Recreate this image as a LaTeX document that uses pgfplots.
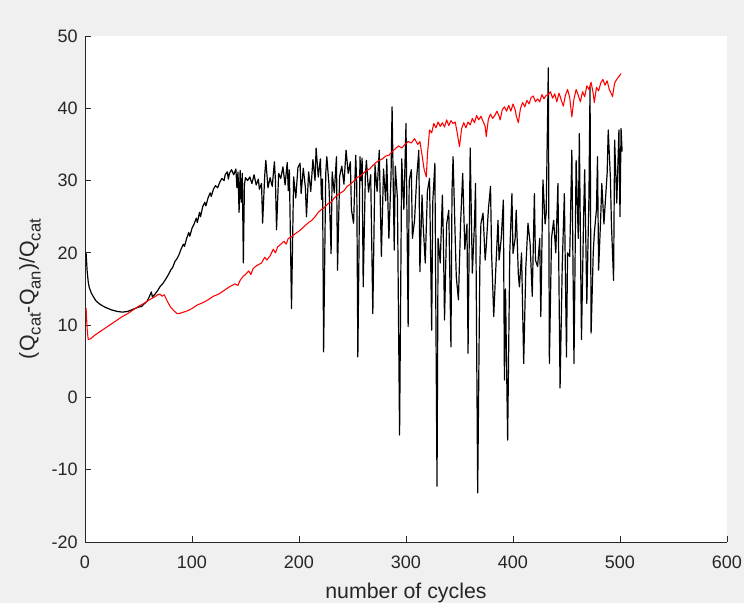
\documentclass[border=0pt]{standalone}
\usepackage{pgfplots}
\pgfplotsset{compat=1.18}
\usepackage{fontspec}
\setmainfont{Liberation Sans}
\definecolor{figbg}{HTML}{F0F0F0}
\definecolor{axc}{HTML}{262626}
\newcommand{\sub}[1]{\raisebox{-0.28em}{\fontsize{12.5}{13}\selectfont #1}}
\begin{document}
\begin{tikzpicture}
\fill[figbg] (-63.75pt,-45.75pt) rectangle (494.25pt,406.5pt);
\useasboundingbox (-63.75pt,-45.75pt) rectangle (494.25pt,406.5pt);
\begin{axis}[
  scale only axis, width=481.5pt, height=379.5pt,
  xmin=0, xmax=600, ymin=-20, ymax=50,
  xtick={0,100,...,600}, ytick={-20,-10,...,50},
  axis lines=left, axis line style={-, draw=axc, line width=0.6pt},
  axis background/.style={fill=white},
  tick align=inside, major tick length=4.5pt, tick style={axc, line width=0.6pt},
  /pgf/number format/assume math mode=true,
  ticklabel style={font=\fontsize{13.5}{15}\selectfont, text=axc},
  xticklabel style={yshift=-6.75pt},
  yticklabel style={xshift=-1.9pt},
  xlabel={number of cycles},
  ylabel={(Q\sub{cat}-Q\sub{an})/Q\sub{cat}},
  label style={font=\fontsize{16}{18}\selectfont, text=axc},
  xlabel style={at={(axis description cs:0.5,-0.1008)}, anchor=center},
  ylabel style={at={(axis description cs:-0.0857,0.5)}, anchor=center},
  clip=true,
]
\addplot[black, line width=0.9pt, line join=round] coordinates {
(1,20.0)(2,17.5)(3,16.0)(4,15.2)(6,14.4)(8,13.9)(10,13.4)(13,13.0)(16,12.7)(20,12.4)
(25,12.1)(30,11.9)(35,11.8)(40,11.9)(45,12.2)(50,12.5)(53,12.6)(55,12.9)(58,13.3)(60,13.9)
(62,14.6)(63,13.9)(65,14.2)(68,14.8)(70,15.3)(73,15.8)(76,16.5)(78,17.0)(80,17.6)(82,18.0)
(84,18.8)(86,19.2)(88,19.8)(90,20.6)(92,21.2)(93,20.9)(95,22.0)(97,22.8)(98,22.3)(100,23.4)
(102,24.0)(104,24.8)(105,24.2)(107,25.6)(108,25.0)(110,26.4)(112,27.0)(113,26.5)(115,27.6)(117,28.3)
(118,27.8)(120,28.8)(122,29.3)(124,29.0)(126,29.8)(128,30.3)(130,30.0)(131,30.8)(133,31.2)(134,30.2)
(135,31.0)(137,31.5)(139,30.8)(141,31.6)(142,29.0)(143,31.2)(144,25.6)(145,31.4)(146,27.0)(147,31.0)
(148,18.6)(149,29.5)(150,30.4)(152,30.0)(154,30.5)(156,29.6)(158,30.8)(160,29.4)(162,30.2)(163,28.8)
(165,29.6)(166,24.1)(168,30.8)(169,32.8)(171,29.0)(173,30.4)(175,29.2)(177,32.6)(178,30.0)(179,23.2)
(181,31.0)(183,30.3)(185,31.9)(187,29.4)(189,32.5)(190,28.6)(191,31.5)(193,12.3)(195,30.5)(197,27.6)
(199,31.8)(201,32.4)(202,28.2)(204,31.7)(206,29.0)(207,25.0)(209,31.2)(211,28.5)(213,32.9)(215,30.0)
(216,34.5)(218,30.5)(220,33.0)(221,27.4)(222,30.2)(223,6.3)(225,31.0)(226,33.3)(228,29.5)(230,19.9)
(231,31.2)(233,28.3)(235,33.3)(236,17.6)(238,30.6)(240,32.0)(242,29.5)(244,34.2)(246,31.0)(248,32.6)
(249,26.0)(251,24.1)(253,33.5)(254,29.4)(255,5.6)(257,33.3)(258,30.0)(259,33.1)(260,15.3)(262,30.6)
(263,32.8)(265,28.4)(267,30.8)(269,11.6)(271,32.2)(273,28.5)(275,34.2)(277,19.5)(279,31.6)(281,27.2)
(282,33.0)(284,22.0)(286,30.5)(287,40.2)(289,20.4)(290,32.0)(292,27.5)(294,-5.2)(296,33.0)(298,26.0)
(300,37.9)(302,9.8)(303,30.0)(305,31.5)(306,22.0)(308,24.5)(310,30.4)(312,34.2)(313,17.4)(315,28.0)
(316,24.0)(318,18.6)(320,28.5)(322,30.3)(324,9.3)(325,27.0)(327,32.4)(329,-12.3)(330,22.0)(332,18.6)
(334,28.0)(335,21.5)(336,10.7)(338,24.0)(340,25.9)(342,7.0)(343,28.5)(344,33.3)(346,22.0)(347,16.7)
(349,13.5)(351,24.0)(353,31.0)(355,20.5)(357,24.0)(358,6.1)(360,34.5)(362,17.2)(364,24.0)(365,29.6)
(367,-13.2)(369,18.0)(370,24.0)(372,25.5)(374,19.0)(375,20.9)(377,26.0)(379,29.2)(380,20.0)(382,11.2)
(384,18.0)(386,24.5)(387,19.0)(389,22.0)(391,27.3)(392,2.4)(393,15.0)(395,-5.9)(397,20.0)(399,28.2)
(400,19.9)(402,22.0)(403,25.9)(405,17.0)(406,15.3)(408,20.0)(410,4.7)(412,18.0)(414,24.1)(416,21.3)
(418,14.0)(420,28.2)(421,19.0)(423,18.1)(425,22.0)(426,11.2)(428,30.1)(430,24.0)(431,25.5)(433,45.6)
(434,4.7)(436,22.0)(438,24.5)(440,20.0)(442,29.6)(444,1.3)(446,18.0)(448,28.2)(450,5.6)(451,20.0)
(453,19.5)(455,34.2)(457,4.7)(459,32.8)(461,22.0)(462,36.5)(464,8.0)(466,25.0)(467,31.5)(469,13.0)
(471,28.0)(472,43.0)(473,8.9)(475,20.0)(476,22.7)(478,26.0)(479,33.3)(480,17.6)(482,25.0)(483,29.6)
(485,24.0)(486,26.4)(488,31.0)(489,37.0)(491,30.5)(492,24.0)(494,16.2)(495,35.6)(497,26.9)(498,32.0)
(499,37.0)(500,25.0)(501,37.2)(502,34.0)
};
\addplot[red, line width=0.8pt, line join=round] coordinates {
(1,12.4)(2,9.5)(3,8.0)(5,8.1)(10,8.7)(15,9.2)(20,9.7)(25,10.2)(30,10.7)(35,11.2)
(40,11.6)(45,12.1)(50,12.6)(55,13.0)(60,13.5)(65,13.9)(68,14.2)(70,14.3)(72,14.0)(74,14.2)
(76,13.6)(78,13.0)(80,12.5)(83,12.0)(86,11.6)(88,11.6)(92,11.8)(96,12.0)(100,12.3)(105,12.8)
(110,13.1)(115,13.5)(120,14.0)(125,14.3)(130,14.8)(135,15.3)(140,15.7)(143,15.5)(145,16.2)(148,16.8)
(150,17.0)(153,17.5)(155,17.0)(157,17.8)(160,18.2)(165,18.6)(168,19.4)(170,19.0)(173,19.6)(176,20.5)
(178,20.0)(180,20.8)(183,21.2)(186,21.6)(188,21.2)(190,22.0)(193,22.2)(196,22.6)(200,23.0)(203,23.4)
(206,23.8)(209,24.2)(212,24.5)(215,25.0)(218,25.6)(221,26.0)(224,26.3)(227,26.8)(230,27.0)(233,27.6)
(236,28.0)(239,28.3)(242,28.6)(245,29.2)(248,29.5)(251,29.9)(254,30.4)(257,30.6)(260,31.0)(263,31.4)
(266,31.6)(269,32.1)(272,32.5)(275,32.8)(278,33.0)(281,33.4)(284,33.5)(287,34.0)(290,34.4)(293,34.8)
(296,34.5)(299,35.0)(302,35.4)(305,35.2)(308,35.8)(311,35.0)(313,35.4)(315,33.5)(317,31.5)(319,30.5)
(320,33.5)(322,37.0)(324,36.6)(326,37.9)(328,37.3)(330,38.1)(332,37.5)(334,38.0)(336,37.4)(338,38.4)
(340,37.6)(342,38.3)(344,37.9)(346,38.1)(348,36.5)(350,34.7)(352,37.2)(354,38.0)(356,37.3)(358,38.1)
(360,37.7)(362,38.6)(364,38.0)(366,39.0)(368,38.4)(370,38.9)(372,38.2)(374,37.5)(375,36.1)(377,38.5)
(379,39.2)(381,38.6)(383,39.0)(385,39.6)(387,38.9)(388,38.4)(390,39.8)(392,40.2)(394,39.6)(396,40.4)
(398,39.6)(400,40.6)(402,39.8)(403,39.0)(405,38.0)(407,40.0)(409,40.8)(411,40.2)(413,41.1)(415,40.6)
(417,41.5)(419,41.7)(421,40.9)(423,41.3)(425,40.9)(427,41.9)(429,41.3)(431,41.8)(433,41.9)(435,42.3)
(437,41.4)(439,42.0)(441,40.9)(443,42.1)(445,41.2)(447,40.3)(449,41.8)(451,42.6)(453,41.5)(455,38.8)
(457,41.3)(459,42.6)(461,41.8)(463,40.9)(465,42.3)(467,41.6)(469,43.1)(471,42.6)(473,43.6)(475,42.0)
(476,40.8)(478,42.9)(480,42.4)(482,43.5)(484,44.0)(486,43.2)(488,43.8)(490,42.6)(492,42.0)(493,41.6)
(495,43.5)(497,44.0)(499,44.4)(501,44.8)
};
\end{axis}
\end{tikzpicture}
\end{document}
